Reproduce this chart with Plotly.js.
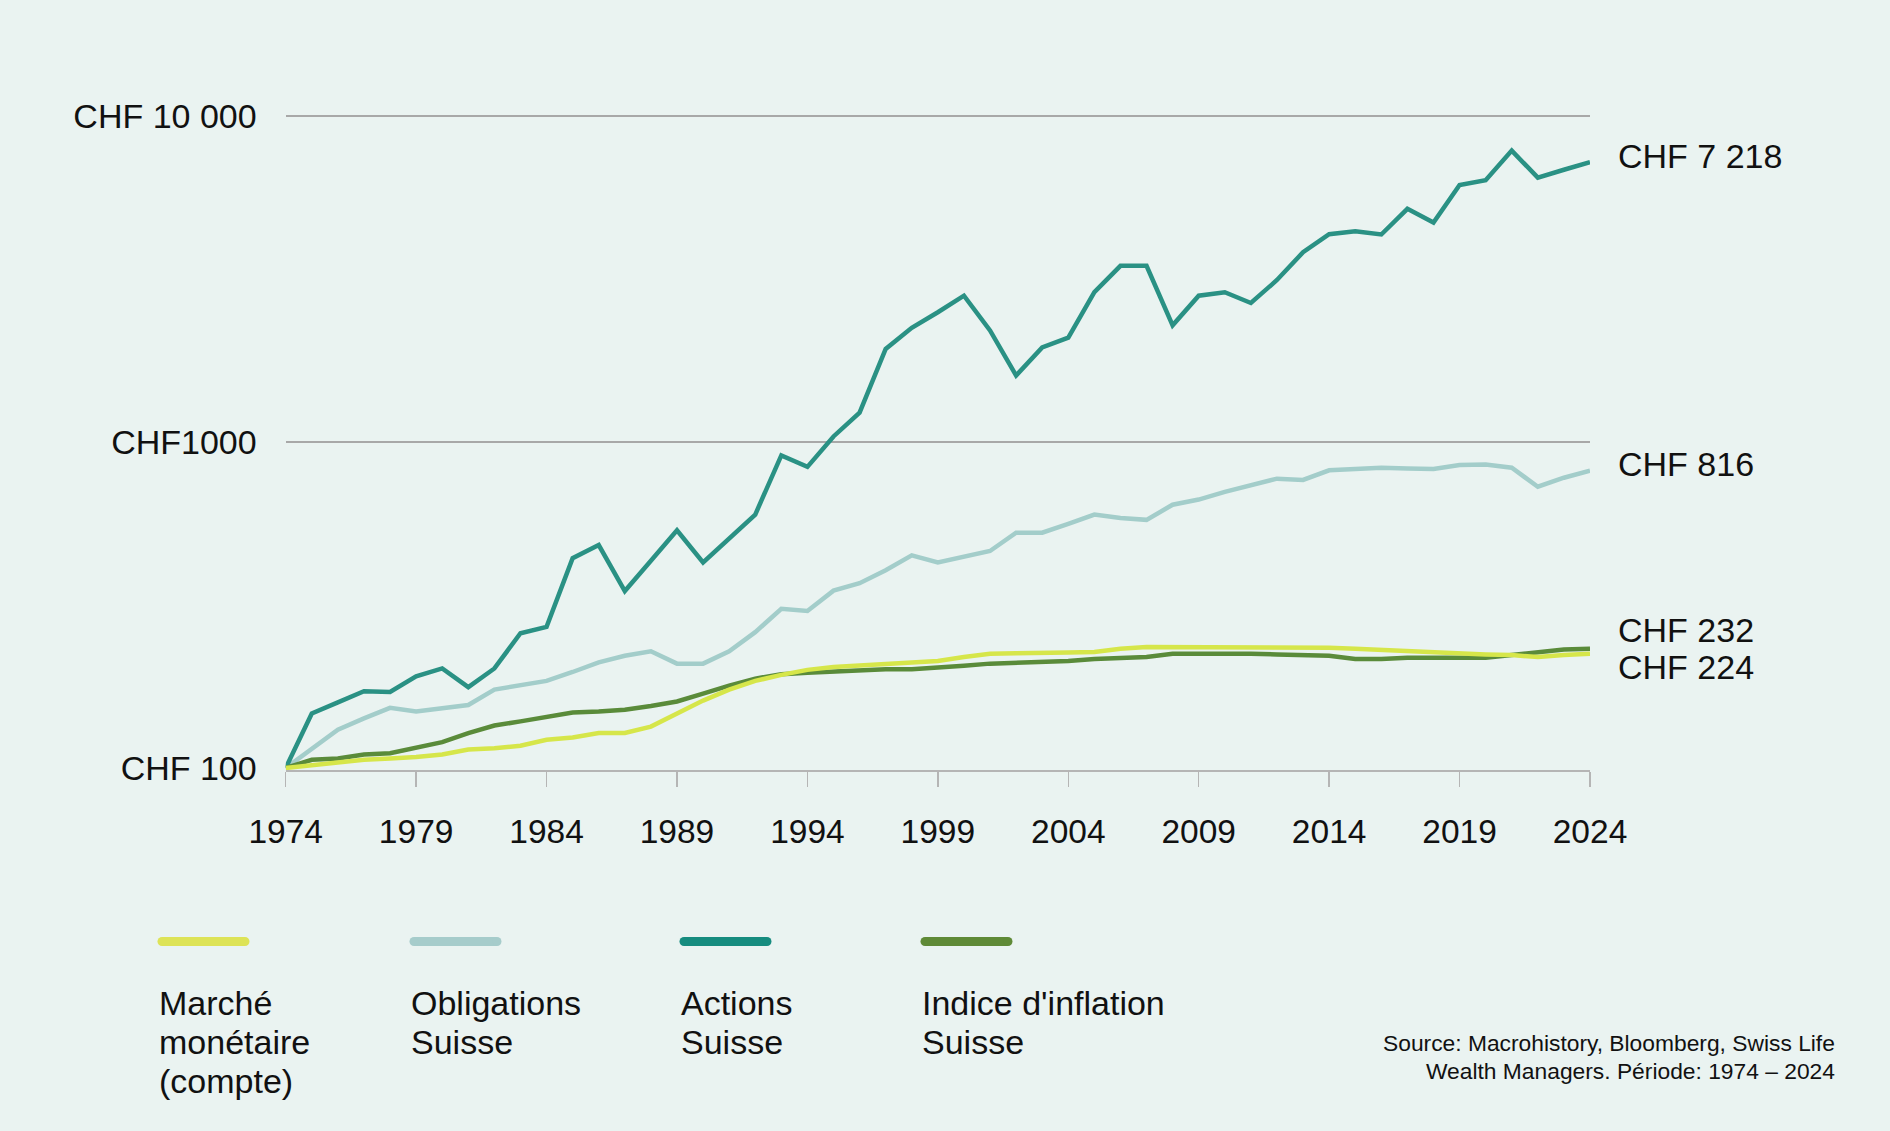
<!DOCTYPE html>
<html>
<head>
<meta charset="utf-8">
<script src="https://cdn.plot.ly/plotly-3.0.1.min.js"></script>
<style>
  html, body { margin: 0; padding: 0; background: #eaf3f1; }
  #chart { width: 1890px; height: 1131px; }
</style>
</head>
<body>
<div id="chart"></div>
<script>
// Growth of CHF 100 invested in 1974 (log scale), Swiss asset classes
const years = [
  1974, 1975, 1976, 1977, 1978, 1979, 1980, 1981, 1982, 1983,
  1984, 1985, 1986, 1987, 1988, 1989, 1990, 1991, 1992, 1993,
  1994, 1995, 1996, 1997, 1998, 1999, 2000, 2001, 2002, 2003,
  2004, 2005, 2006, 2007, 2008, 2009, 2010, 2011, 2012, 2013,
  2014, 2015, 2016, 2017, 2018, 2019, 2020, 2021, 2022, 2023,
  2024
];

// Marché monétaire (compte)
const moneyMarket = [
  100, 102, 104, 106, 107, 108, 110, 114, 115, 117,
  122, 124, 128, 128, 134, 147, 161, 174, 185, 193,
  200, 204, 206, 209, 210, 213, 219, 224, 225, 225,
  226, 227, 232, 235, 235, 235, 235, 235, 235, 235,
  234, 232, 230, 228, 226, 225, 223, 222, 219, 222,
  224
];

// Obligations Suisse
const bonds = [
  100, 115, 131, 142, 153, 149, 153, 156, 174, 179,
  185, 197, 211, 221, 228, 209, 209, 228, 261, 308,
  303, 350, 369, 404, 449, 427, 446, 463, 527, 527,
  561, 599, 585, 577, 642, 666, 703, 738, 772, 765,
  819, 826, 834, 830, 826, 850, 853, 834, 729, 777,
  816
];

// Actions Suisse
const equities = [
  100, 147, 159, 172, 171, 191, 202, 177, 202, 259,
  271, 440, 483, 349, 432, 536, 427, 505, 599, 910,
  839, 1040, 1230, 1930, 2240, 2500, 2810, 2200, 1600, 1950,
  2090, 2880, 3470, 3470, 2280, 2810, 2880, 2670, 3140, 3820,
  4340, 4430, 4330, 5190, 4710, 6140, 6350, 7830, 6470, 6840,
  7218
];

// Indice d'inflation Suisse
const inflation = [
  100, 106, 107, 110, 111, 115, 120, 128, 135, 139,
  144, 148, 149, 151, 155, 160, 169, 179, 188, 194,
  196, 198, 199, 201, 201, 203, 206, 209, 210, 211,
  213, 216, 218, 219, 224, 224, 225, 224, 223, 222,
  221, 216, 216, 218, 218, 219, 218, 222, 227, 231,
  232
];

const seriesNames = ["Marché monétaire (compte)", "Obligations Suisse", "Actions Suisse", "Indice d'inflation Suisse"];
const legendLines = [["Marché", "monétaire", "(compte)"], ["Obligations", "Suisse"], ["Actions", "Suisse"], ["Indice d'inflation", "Suisse"]];
const seriesColors = ["#d6e64a", "#a3cdca", "#2a9184", "#5a8b3a"];
const legendColors = ["#dde357", "#a6cccb", "#168c7f", "#5f8a37"];
const endLabels = ["CHF 224", "CHF 816", "CHF 7 218", "CHF 232"];

const xTickYears = [1974, 1979, 1984, 1989, 1994, 1999, 2004, 2009, 2014, 2019, 2024];
const yTickValues = [100, 1000, 10000];
const yTickText = ["CHF 100", "CHF1000", "CHF 10 000"];
const gridValues = [1000, 10000];

const sourceLines = ["Source: Macrohistory, Bloomberg, Swiss Life", "Wealth Managers. Période: 1974 – 2024"];

// ---- layout geometry (pixels) ----
const W = 1890, H = 1131;
const plotL = 285.7, plotR = 1590, plotT = 112, plotB = 770;
const y100px = 768, decadePx = 326;           // where 100 sits, height of one decade
const px = x => x / W;
const py = y => 1 - y / H;

const FONT = "Liberation Sans, Arial, Helvetica, sans-serif";
const INK = "#111111";
const AXIS_GREY = "#b5b5b5";
const GRID_GREY = "#a8a8a8";

const allSeries = [moneyMarket, bonds, equities, inflation];

// draw order: bonds, equities, inflation, money market on top
const drawOrder = [1, 2, 3, 0];
const traces = drawOrder.map(i => ({
  type: "scatter",
  mode: "lines",
  name: seriesNames[i],
  x: years,
  y: allSeries[i],
  line: { color: seriesColors[i], width: 4.5, shape: "linear" },
  hoverinfo: "x+y+name",
  showlegend: false,
  xaxis: "x",
  yaxis: "y"
}));

// overlay axis carrying only the horizontal gridlines
traces.push({
  type: "scatter", mode: "none", x: [years[0]], y: [yTickValues[1]],
  xaxis: "x", yaxis: "y2", showlegend: false, hoverinfo: "skip"
});

// end-of-line value labels (vertical nudges keep close labels apart)
const labelShift = [-13, 7, 6, 19];
const annotations = [];
allSeries.forEach((s, i) => {
  annotations.push({
    xref: "x", yref: "y",
    x: years[years.length - 1],
    y: Math.log10(s[s.length - 1]),
    text: endLabels[i],
    showarrow: false,
    xanchor: "left", yanchor: "middle",
    xshift: 26, yshift: labelShift[i],
    font: { family: FONT, size: 34, color: INK }
  });
});

// custom legend: swatch above a wrapped label
const legendX = [158, 410, 680, 921];
const swatchY = 941.5, swatchLen = 87;
const legendTextY = [1003, 1042, 1081];
const shapes = [];
legendColors.forEach((c, i) => {
  const x0 = legendX[i] + 4, x1 = legendX[i] + swatchLen;
  shapes.push({
    type: "line", xref: "paper", yref: "paper",
    x0: px(x0), x1: px(x1), y0: py(swatchY), y1: py(swatchY),
    line: { color: c, width: 9 }
  });
  [x0, x1].forEach(xc => {
    shapes.push({
      type: "circle", xref: "paper", yref: "paper",
      xsizemode: "pixel", ysizemode: "pixel",
      xanchor: px(xc), yanchor: py(swatchY),
      x0: -4.5, x1: 4.5, y0: -4.5, y1: 4.5,
      fillcolor: c, line: { width: 0 }
    });
  });
  legendLines[i].forEach((t, k) => {
    annotations.push({
      xref: "paper", yref: "paper",
      x: px(legendX[i] - 1), y: py(legendTextY[k]),
      text: t, showarrow: false,
      xanchor: "left", yanchor: "middle",
      font: { family: FONT, size: 34, color: INK }
    });
  });
});

// source note, right aligned
const sourceY = [1043, 1070.5];
sourceLines.forEach((t, k) => {
  annotations.push({
    xref: "paper", yref: "paper",
    x: px(1837), y: py(sourceY[k]),
    text: t, showarrow: false,
    xanchor: "right", yanchor: "middle",
    font: { family: FONT, size: 22.8, color: INK }
  });
});

const yDomain = [py(plotB), py(plotT)];
const yRange = [2 - (plotB - y100px) / decadePx, 2 + (y100px - plotT) / decadePx];

const layout = {
  width: W, height: H,
  margin: { l: 0, r: 0, t: 0, b: 0, pad: 0 },
  paper_bgcolor: "#eaf3f1",
  plot_bgcolor: "rgba(0,0,0,0)",
  font: { family: FONT, color: INK },
  showlegend: false,
  xaxis: {
    domain: [px(plotL), px(plotR)],
    range: [years[0], years[years.length - 1]],
    tickmode: "array",
    tickvals: xTickYears,
    ticktext: xTickYears.map(String),
    ticks: "outside", ticklen: 15, tickwidth: 1.5, tickcolor: AXIS_GREY,
    showline: true, linecolor: AXIS_GREY, linewidth: 2,
    showgrid: false, zeroline: false,
    tickfont: { family: FONT, size: 33.5, color: INK },
    ticklabelstandoff: 16,
    fixedrange: true
  },
  yaxis: {
    type: "log",
    domain: yDomain,
    range: yRange,
    tickmode: "array",
    tickvals: yTickValues,
    ticktext: yTickText,
    ticks: "",
    showline: false, showgrid: false, zeroline: false,
    tickfont: { family: FONT, size: 34, color: INK },
    ticklabelstandoff: 28,
    fixedrange: true
  },
  yaxis2: {
    type: "log",
    overlaying: "y",
    domain: yDomain,
    range: yRange,
    tickmode: "array",
    tickvals: gridValues,
    showticklabels: false,
    ticks: "",
    showgrid: true, gridcolor: GRID_GREY, gridwidth: 1.5,
    showline: false, zeroline: false,
    fixedrange: true
  },
  shapes: shapes,
  annotations: annotations
};

Plotly.newPlot("chart", traces, layout, { displayModeBar: false, staticPlot: true });
</script>
</body>
</html>
